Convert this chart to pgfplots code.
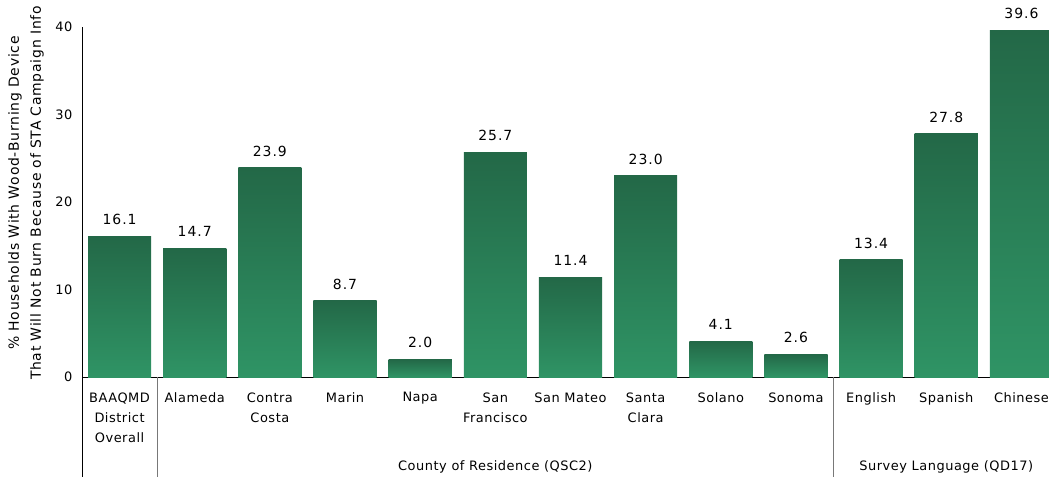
\documentclass[border=0pt]{standalone}
\usepackage{pgfplots}
\pgfplotsset{compat=1.18}
\usepackage{fontspec}
\setmainfont{DejaVu Sans}
\newfontfamily\tickfont[LetterSpace=4]{DejaVu Sans}
\newfontfamily\valfont[LetterSpace=7]{DejaVu Sans}
\newfontfamily\labfont[LetterSpace=5.5]{DejaVu Sans}
\definecolor{bartop}{RGB}{35,104,71}
\definecolor{barmid}{RGB}{40,124,85}
\definecolor{barbot}{RGB}{47,148,101}
\definecolor{sepgray}{RGB}{120,120,120}
\begin{document}
\begin{tikzpicture}
\begin{axis}[
  at={(0,0)}, anchor=south west,
  scale only axis, width=977bp, height=350bp,
  xmin=-0.5, xmax=12.5, ymin=0, ymax=40,
  axis x line=bottom, axis y line=left,
  axis line style={-, black, line width=0.8pt},
  ytick={0,10,20,30,40}, xtick={0,...,12},
  xticklabels={{BAAQMD\\District\\Overall},Alameda,{Contra\\Costa},Marin,Napa,{San\\Francisco},{San Mateo},{Santa\\Clara},Solano,Sonoma,English,Spanish,Chinese},
  major tick length=0pt,
  tick label style={font=\tickfont\fontsize{13}{20.5}\selectfont},
  xticklabel style={align=center, anchor=north, yshift=-12bp},
  yticklabel style={xshift=-6bp},
  /pgf/number format/assume math mode=true,
  clip=false,
  mybar/.style={ybar, bar width=0.84, bar shift=0pt, draw=none,
    top color=bartop, middle color=barmid, bottom color=barbot,
    nodes near coords={\pgfmathprintnumber[fixed,fixed zerofill,precision=1,assume math mode=true]{\pgfplotspointmeta}},
    nodes near coords style={font=\valfont\fontsize{14}{16}\selectfont, anchor=south, yshift=8bp, text=black}},
]
\addplot[mybar] coordinates {(0,16.1)};
\addplot[mybar] coordinates {(1,14.7)};
\addplot[mybar] coordinates {(2,23.9)};
\addplot[mybar] coordinates {(3,8.7)};
\addplot[mybar] coordinates {(4,2.0)};
\addplot[mybar] coordinates {(5,25.7)};
\addplot[mybar] coordinates {(6,11.4)};
\addplot[mybar] coordinates {(7,23.0)};
\addplot[mybar] coordinates {(8,4.1)};
\addplot[mybar] coordinates {(9,2.6)};
\addplot[mybar] coordinates {(10,13.4)};
\addplot[mybar] coordinates {(11,27.8)};
\addplot[mybar] coordinates {(12,39.6)};
\draw[sepgray, line width=1pt] (axis cs:0.5,0) -- ++(0bp,-100bp);
\draw[sepgray, line width=1pt] (axis cs:9.5,0) -- ++(0bp,-100bp);
\draw[black, line width=0.8pt] (axis cs:-0.5,0) -- ++(0bp,-100bp);
\node[font=\tickfont\fontsize{13}{16}\selectfont] at ([yshift=-90bp]axis cs:5,0) {County of Residence (QSC2)};
\node[font=\tickfont\fontsize{13}{16}\selectfont] at ([yshift=-90bp]axis cs:11,0) {Survey Language (QD17)};
\end{axis}
\node[rotate=90, align=center, font=\labfont\fontsize{14}{22}\selectfont] at (-56bp,184bp) {\% Households With Wood-Burning Device\\That Will Not Burn Because of STA Campaign Info};
\pgfresetboundingbox
\path[use as bounding box] (-82bp,-100bp) rectangle (967bp,377bp);
\end{tikzpicture}
\end{document}
